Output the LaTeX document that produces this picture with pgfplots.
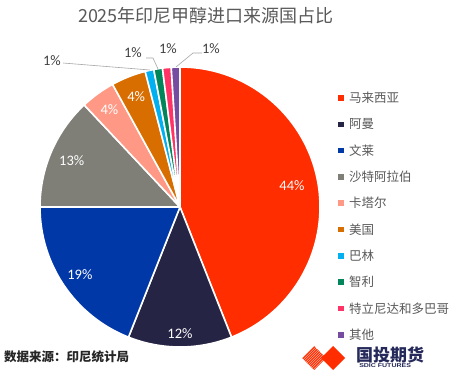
\documentclass[border=0pt]{standalone}
\usepackage{pgfplots}
\pgfplotsset{compat=1.18}
\usepackage{pgfplotstable}
\usetikzlibrary{calc}
\usepackage{fontspec}
\setmainfont{Carlito}
\newfontfamily\cjk{Noto Sans CJK SC}
\newfontfamily\logofont{Liberation Sans}
\definecolor{c0}{HTML}{FF2D00}
\definecolor{c1}{HTML}{262445}
\definecolor{c2}{HTML}{0038A8}
\definecolor{c3}{HTML}{7F7F78}
\definecolor{c4}{HTML}{FF9985}
\definecolor{c5}{HTML}{D96E00}
\definecolor{c6}{HTML}{00B0F0}
\definecolor{c7}{HTML}{00865A}
\definecolor{c8}{HTML}{FF3366}
\definecolor{c9}{HTML}{754CA0}
\definecolor{txtgray}{HTML}{595959}
\definecolor{lblgray}{HTML}{404040}
\definecolor{leader}{HTML}{A6A6A6}
\definecolor{logoblue}{HTML}{262A5A}

\pgfplotstableread[col sep=comma]{
name,value,lr
马来西亚,44,114
阿曼,12,127
文莱,19,121
沙特阿拉伯,13,118
卡塔尔,4,120
美国,4,119
巴林,1,0
智利,1,0
特立尼达和多巴哥,1,0
其他,1,0
}\piedata

\begin{document}
\begin{tikzpicture}
\useasboundingbox (0,0) rectangle (457bp,371bp);
\fill[white] (0,0) rectangle (457bp,371bp);
\begin{axis}[at={(0,0)}, anchor=south west, x=1bp, y=1bp,
  xmin=0, xmax=457, ymin=0, ymax=371, y dir=reverse,
  axis lines=none, scale only axis, clip=false]
\def\cum{0}
\pgfplotsforeachungrouped \i in {0,...,9}{%
  \pgfplotstablegetelem{\i}{value}\of\piedata \let\v\pgfplotsretval
  \pgfplotstablegetelem{\i}{lr}\of\piedata \let\lr\pgfplotsretval
  \pgfplotstablegetelem{\i}{name}\of\piedata \let\nm\pgfplotsretval
  \pgfmathsetmacro\a{90-3.6*\cum}%
  \pgfmathsetmacro\b{90-3.6*(\cum+\v)}%
  \pgfmathsetmacro\m{(\a+\b)/2}%
  \pgfmathsetmacro\ly{98+26.3*\i}%
  \edef\temp{%
    \noexpand\fill[c\i, draw=white, line width=1.6bp, line join=round] (axis cs:180,207) -- ++(\a:140bp) arc[start angle=\a, end angle=\b, radius=140bp] -- cycle;
    \noexpand\fill[c\i] (axis cs:341,\ly) ++(-2.8bp,-2.8bp) rectangle ++(5.6bp,5.6bp);
    \noexpand\node[anchor=west, font=\noexpand\cjk\noexpand\fontsize{12.5bp}{14bp}\noexpand\selectfont, text=txtgray, inner sep=0pt] at (axis cs:349,\ly) {\nm};
  }%
  \temp
  \ifdim\lr pt>0pt
    \edef\temp{\noexpand\node[text=white, font=\noexpand\fontsize{14.5bp}{16bp}\noexpand\selectfont, inner sep=0pt] at ($(axis cs:180,207)+(\m:\lr bp)$) {\v\noexpand\%};}%
    \temp
  \fi
  \pgfmathsetmacro\cum{\cum+\v}%
}
% leader lines and outer labels
\draw[leader, line width=0.6bp] (axis cs:150,70) -- (axis cs:63,63);
\draw[leader, line width=0.6bp] (axis cs:158,69) -- (axis cs:153,58) -- (axis cs:146,58);
\draw[leader, line width=0.6bp] (axis cs:176,67) -- (axis cs:193,53) -- (axis cs:202,53);
\node[text=lblgray, font=\fontsize{14.5bp}{16bp}\selectfont, inner sep=0pt] at (axis cs:52,61) {1\%};
\node[text=lblgray, font=\fontsize{14.5bp}{16bp}\selectfont, inner sep=0pt] at (axis cs:133,53) {1\%};
\node[text=lblgray, font=\fontsize{14.5bp}{16bp}\selectfont, inner sep=0pt] at (axis cs:168,49) {1\%};
\node[text=lblgray, font=\fontsize{14.5bp}{16bp}\selectfont, inner sep=0pt] at (axis cs:211,49) {1\%};
% title and source
\node[text=txtgray, font=\cjk\fontsize{18bp}{20bp}\selectfont, inner sep=0pt] at (axis cs:206,16) {2025年印尼甲醇进口来源国占比};
\node[anchor=west, text=black!85, font=\cjk\bfseries\fontsize{12.5bp}{14bp}\selectfont, inner sep=0pt] at (axis cs:4,357) {数据来源：印尼统计局};
\end{axis}
% logo
\begin{scope}
\clip (302bp,13bp) -- (314bp,25bp) -- (326bp,13bp) -- (314bp,1bp) -- cycle;
\foreach \k in {-14,-11.5,...,16} {
  \draw[c0, line width=1.1bp] ({(300+\k)*1bp},-2bp) -- ++(30bp,30bp);
}
\end{scope}
\fill[c0] (321bp,13bp) -- (333bp,25bp) -- (345bp,13bp) -- (333bp,1bp) -- cycle;
\node[anchor=west, text=logoblue, font=\cjk\bfseries\fontsize{17bp}{18bp}\selectfont, inner sep=0pt] at (356bp,16bp) {国投期货};
\node[anchor=west, text=logoblue, font=\logofont\bfseries\fontsize{5.6bp}{6bp}\selectfont, inner sep=0pt, xscale=1.25] at (359bp,5bp) {SDIC FUTURES};
\end{tikzpicture}
\end{document}
